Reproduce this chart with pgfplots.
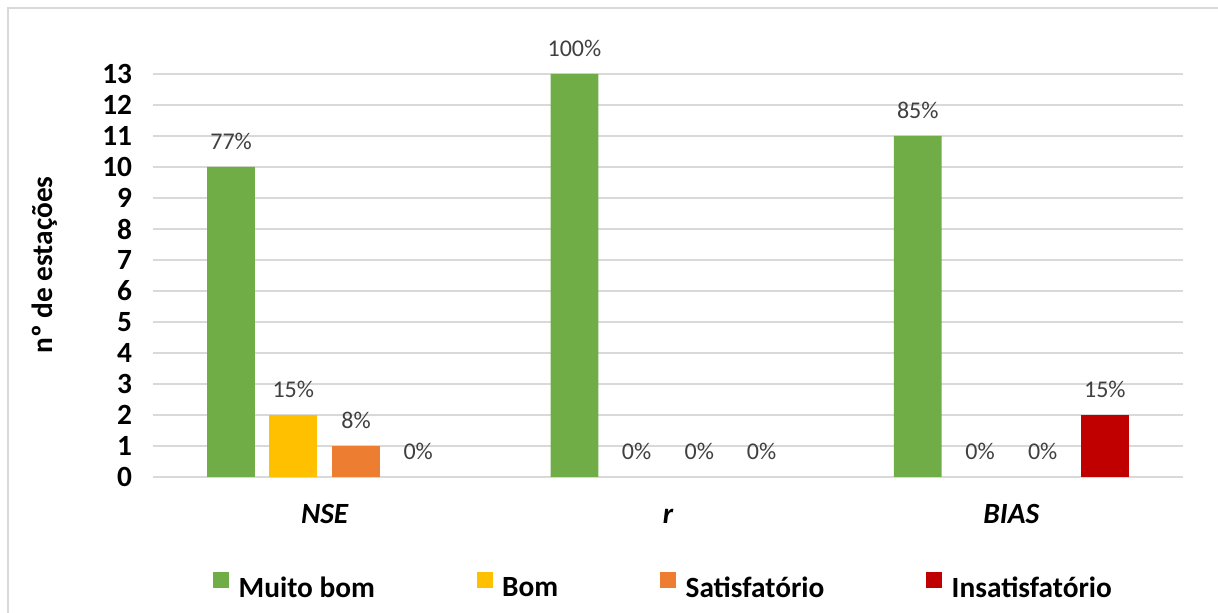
\documentclass[border=0pt]{standalone}
\usepackage{fontspec}
\setmainfont{Carlito}
\usepackage{pgfplots}
\pgfplotsset{compat=1.18}
\usepackage{pgfplotstable}
\definecolor{cgreen}{HTML}{70AD47}
\definecolor{cyellow}{HTML}{FFC000}
\definecolor{corange}{HTML}{ED7D31}
\definecolor{cred}{HTML}{C00000}
\definecolor{gridgray}{HTML}{D9D9D9}
\definecolor{labgray}{HTML}{404040}

% non-zero counts
\pgfplotstableread{
x y l
0 10 77
1 13 100
2 11 85
}\muitobom
\pgfplotstableread{
x y l
0 2 15
}\bom
\pgfplotstableread{
x y l
0 1 8
}\satis
\pgfplotstableread{
x y l
2 2 15
}\insatis
% zero counts (labels only)
\pgfplotstableread{
x y l
1 0 0
2 0 0
}\bomzero
\pgfplotstableread{
x y l
1 0 0
2 0 0
}\satiszero
\pgfplotstableread{
x y l
0 0 0
1 0 0
}\insatiszero

\begin{document}
\begin{tikzpicture}
\path[use as bounding box] (0pt,0pt) rectangle (913.5pt,459.75pt);
\draw[color=gridgray, line width=1.5pt] (6pt,-15pt) rectangle (930pt,453.75pt);
\begin{axis}[
  at={(114.75pt,102pt)}, anchor=south west,
  scale only axis, width=772.5pt, height=302.25pt,
  xmin=-0.5, xmax=2.5, ymin=0, ymax=13,
  ytick={0,1,...,13},
  xtick={0,1,2}, xticklabels={NSE,r,BIAS},
  ymajorgrids, grid style={color=gridgray, line width=1.5pt},
  axis line style={draw=none},
  major tick length=0pt,
  /pgf/number format/assume math mode=true,
  tick label style={font=\fontsize{22}{26}\selectfont\bfseries, text=black},
  yticklabel style={xshift=-12.2pt},
  xticklabel style={font=\fontsize{22}{26}\selectfont\bfseries\itshape, anchor=base, yshift=-35.25pt},
  ylabel={nº de estações},
  ylabel style={font=\fontsize{22}{26}\selectfont\bfseries, at={(axis description cs:-0.1049,0.526)}, anchor=center},
  ybar, bar width=0.1391,
  point meta=explicit symbolic,
  nodes near coords={\pgfplotspointmeta\%},
  every node near coord/.append style={font=\fontsize{18}{20}\selectfont, text=labgray, anchor=base, yshift=12.75pt},
  legend columns=4,
  legend style={draw=none, fill=none, inner sep=0pt, at={(axis description cs:0.0583,-0.273)}, anchor=west,
    font=\fontsize{22}{26}\selectfont\bfseries,
    /tikz/every odd column/.append style={column sep=5pt},
    /tikz/every even column/.append style={column sep=74.5pt}},
  legend image code/.code={\fill[#1, draw=none] (0pt,0pt) rectangle (12pt,12pt);},
]
\addplot[fill=cgreen, draw=none, bar shift=-0.2725] table[x=x, y=y, meta=l] {\muitobom};
\addplot[fill=cyellow, draw=none, bar shift=-0.0913] table[x=x, y=y, meta=l] {\bom};
\addplot[fill=corange, draw=none, bar shift=0.0913] table[x=x, y=y, meta=l] {\satis};
\addplot[fill=cred, draw=none, bar shift=0.2725] table[x=x, y=y, meta=l] {\insatis};
\addplot[fill=none, draw=none, bar shift=-0.0913, forget plot] table[x=x, y=y, meta=l] {\bomzero};
\addplot[fill=none, draw=none, bar shift=0.0913, forget plot] table[x=x, y=y, meta=l] {\satiszero};
\addplot[fill=none, draw=none, bar shift=0.2725, forget plot] table[x=x, y=y, meta=l] {\insatiszero};
\legend{Muito bom, Bom, Satisfatório, Insatisfatório}
\end{axis}
\end{tikzpicture}
\end{document}
